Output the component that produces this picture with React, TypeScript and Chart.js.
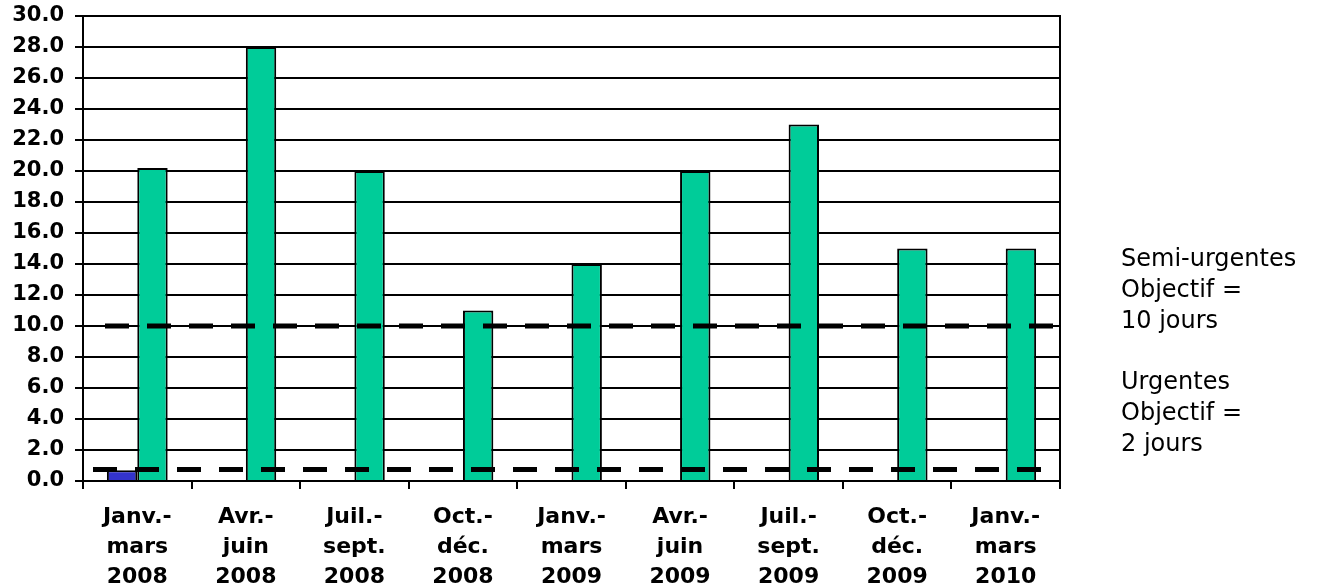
import React, { useEffect, useRef } from "react";
import { Chart, registerables } from "chart.js";

Chart.register(...registerables);

const categories: string[][] = [
  ["Janv.-", "mars", "2008"],
  ["Avr.-", "juin", "2008"],
  ["Juil.-", "sept.", "2008"],
  ["Oct.-", "déc.", "2008"],
  ["Janv.-", "mars", "2009"],
  ["Avr.-", "juin", "2009"],
  ["Juil.-", "sept.", "2009"],
  ["Oct.-", "déc.", "2009"],
  ["Janv.-", "mars", "2010"],
];

const urgentes: (number | null)[] = [0.7, null, null, null, null, null, null, null, null];
const semiUrgentes: number[] = [20.2, 28, 20, 11, 14, 20, 23, 15, 15];

const objectifSemiUrgentes = 10;
const objectifUrgentes = 0.75;

const legendLines: string[] = [
  "Semi-urgentes",
  "Objectif =",
  "10 jours",
  "",
  "Urgentes",
  "Objectif =",
  "2 jours",
];

const FONT = "'DejaVu Sans', Verdana, sans-serif";

export default function App() {
  const ref = useRef<HTMLCanvasElement | null>(null);

  useEffect(() => {
    if (!ref.current) return;

    const targetLinesPlugin = {
      id: "targetLines",
      afterDatasetsDraw(chart: any) {
        const { ctx, chartArea, scales } = chart;
        const lines = [
          { value: objectifSemiUrgentes, insetL: 22, insetR: 7 },
          { value: objectifUrgentes, insetL: 10, insetR: 19 },
        ];
        ctx.save();
        ctx.strokeStyle = "#000";
        ctx.lineWidth = 5;
        ctx.setLineDash([24, 18]);
        for (const l of lines) {
          const y = scales.y.getPixelForValue(l.value);
          ctx.beginPath();
          ctx.moveTo(chartArea.left + l.insetL, y);
          ctx.lineTo(chartArea.right - l.insetR, y);
          ctx.stroke();
        }
        ctx.restore();
      },
    };

    const sideTextPlugin = {
      id: "sideText",
      afterDraw(chart: any) {
        const { ctx, chartArea } = chart;
        ctx.save();
        ctx.fillStyle = "#000";
        ctx.font = `24px ${FONT}`;
        ctx.textBaseline = "alphabetic";
        ctx.textAlign = "left";
        const x = chartArea.right + 61;
        const y0 = 266;
        const lh = 30.8;
        legendLines.forEach((t, i) => {
          if (t) ctx.fillText(t, x, y0 + i * lh);
        });
        ctx.restore();
      },
    };

    const chart = new Chart(ref.current, {
      type: "bar",
      data: {
        labels: categories,
        datasets: [
          {
            label: "Urgentes",
            data: urgentes,
            backgroundColor: "#3333CC",
            borderColor: "#000",
            borderWidth: 2,
            categoryPercentage: 0.56,
            barPercentage: 1,
          },
          {
            label: "Semi-urgentes",
            data: semiUrgentes,
            backgroundColor: "#00CC99",
            borderColor: "#000",
            borderWidth: 2,
            categoryPercentage: 0.56,
            barPercentage: 1,
          },
        ],
      },
      options: {
        responsive: false,
        animation: false,
        devicePixelRatio: 1,
        layout: { padding: { top: 16, right: 274, left: 0, bottom: 0 } },
        plugins: {
          legend: { display: false },
          tooltip: { enabled: false },
        },
        scales: {
          x: {
            grid: {
              display: true,
              drawOnChartArea: false,
              drawTicks: true,
              tickLength: 8,
              color: "#000",
              lineWidth: 2,
              offset: true,
            },
            border: { display: true, color: "#000", width: 2 },
            ticks: {
              color: "#000",
              font: { family: FONT, size: 22, weight: "bold", lineHeight: 1.36 },
              padding: 13,
              maxRotation: 0,
              autoSkip: false,
            },
            afterFit(scale: any) {
              scale.height = 107;
              scale.paddingLeft = 0;
              scale.paddingRight = 0;
            },
          },
          y: {
            min: 0,
            max: 30,
            grid: {
              color: "#000",
              lineWidth: 2,
              drawTicks: true,
              tickLength: 8,
            },
            border: { display: true, color: "#000", width: 2 },
            ticks: {
              stepSize: 2,
              color: "#000",
              font: { family: FONT, size: 21, weight: "bold" },
              padding: 11,
              callback: (v: any) => Number(v).toFixed(1),
            },
            afterFit(scale: any) {
              scale.width = 83;
              scale.paddingTop = 0;
              scale.paddingBottom = 0;
            },
          },
          yRight: {
            position: "right",
            min: 0,
            max: 30,
            grid: { display: false, drawTicks: false },
            border: { display: true, color: "#000", width: 2 },
            ticks: { display: false },
            afterFit(scale: any) {
              scale.width = 0;
              scale.paddingTop = 0;
              scale.paddingBottom = 0;
            },
          },
        },
      },
      plugins: [targetLinesPlugin, sideTextPlugin],
    });

    return () => chart.destroy();
  }, []);

  return (
    <div style={{ position: "fixed", left: 0, top: 0, width: 1334, height: 588, background: "#fff" }}>
      <canvas ref={ref} width={1334} height={588} style={{ display: "block" }} />
    </div>
  );
}
